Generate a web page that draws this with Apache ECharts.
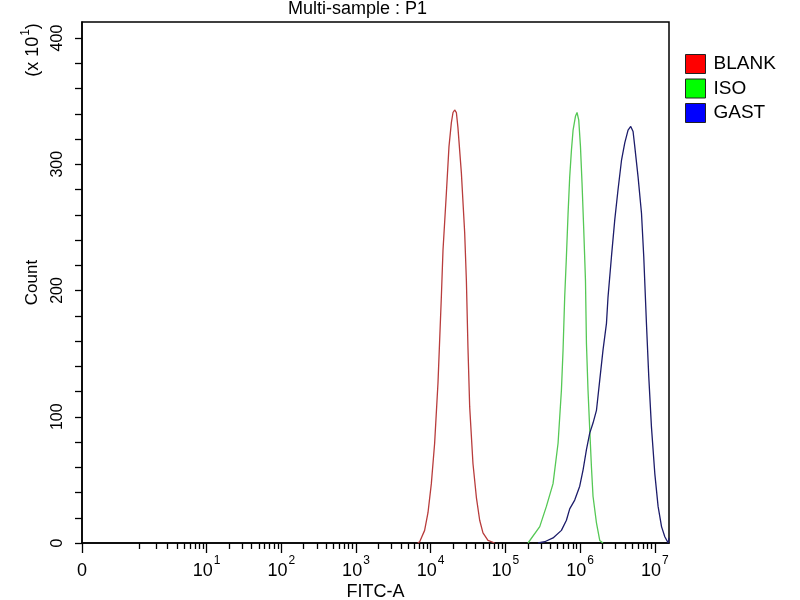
<!DOCTYPE html>
<html>
<head>
<meta charset="utf-8">
<script src="https://cdn.jsdelivr.net/npm/echarts@6/dist/echarts.min.js"></script>
<style>html,body{margin:0;padding:0;background:#fff;}#c{width:800px;height:600px;}</style>
</head>
<body>
<div id="c"></div>
<script>
// x positions are in decade units of the FITC-A axis (10^n -> n); the "0" of the axis sits at -0.667
const seriesNames = ['BLANK', 'ISO', 'GAST'];
const blankPos   = [3.826, 3.853, 3.919, 3.964, 4.009, 4.053, 4.098, 4.143, 4.165, 4.210, 4.245, 4.277, 4.299, 4.321, 4.344, 4.365, 4.411, 4.455, 4.478, 4.499, 4.522, 4.566, 4.612, 4.656, 4.700, 4.767, 4.857];
const blankCount = [0, 1, 10, 24, 47, 79, 127, 195, 232, 277, 314, 333, 341, 343, 341, 329, 293, 246, 208, 155, 108, 63, 36, 18, 8, 2, 0];
const isoPos     = [5.303, 5.460, 5.549, 5.638, 5.705, 5.750, 5.772, 5.794, 5.817, 5.839, 5.861, 5.884, 5.906, 5.938, 5.959, 5.982, 6.005, 6.026, 6.049, 6.072, 6.085, 6.106, 6.129, 6.152, 6.173, 6.219, 6.263, 6.307];
const isoCount   = [0, 13, 29, 47, 79, 121, 153, 195, 227, 261, 290, 311, 327, 338, 341, 335, 314, 285, 248, 208, 158, 121, 90, 60, 37, 16, 2, 0];
const gastPos    = [5.437, 5.527, 5.638, 5.750, 5.817, 5.861, 5.928, 5.995, 6.040, 6.085, 6.129, 6.173, 6.219, 6.263, 6.307, 6.353, 6.374, 6.420, 6.464, 6.508, 6.554, 6.598, 6.642, 6.678, 6.709, 6.732, 6.776, 6.822, 6.852, 6.888, 6.919, 6.955, 7.000, 7.044, 7.090, 7.134, 7.179, 7.19];
const gastCount  = [0, 1, 4, 10, 18, 27, 34, 45, 58, 74, 87, 95, 105, 129, 153, 174, 195, 227, 256, 280, 303, 317, 327, 330, 326, 314, 290, 261, 227, 174, 132, 92, 55, 29, 13, 5, 0, 4];

const xMajorTicks  = [-0.667, 1, 2, 3, 4, 5, 6, 7];
const xTickLabels  = ['0', '10|1', '10|2', '10|3', '10|4', '10|5', '10|6', '10|7'];
const xMinorTicksLow = [0.103, 0.326, 0.478, 0.608, 0.705, 0.786, 0.853, 0.906, 0.960];
const decadeSteps  = [2, 3, 4, 5, 6, 7, 8, 9];
const yTicks       = [0, 20, 40, 60, 80, 100, 120, 140, 160, 180, 200, 220, 240, 260, 280, 300, 320, 340, 360, 380, 400];
const yLabels      = [0, 100, 200, 300, 400];

const colors = ['#b83c3c', '#55c855', '#1c1c6a'];
const legendColors = ['#ff0000', '#00ff00', '#0000ff'];

const xMinorTicks = xMinorTicksLow.slice();
for (let d = 1; d < 7; d++) decadeSteps.forEach(k => xMinorTicks.push(d + Math.log10(k)));

function zip(a, b) { return a.map((v, i) => [v, b[i]]); }
const FONT = "'Liberation Sans', Arial, sans-serif";

const chart = echarts.init(document.getElementById('c'), null, {renderer: 'canvas'});
const labelMap = {};
xMajorTicks.forEach((v, i) => labelMap[v.toFixed(3)] = xTickLabels[i]);

chart.setOption({
  animation: false,
  backgroundColor: '#fff',
  grid: {left: 82, right: 131, top: 22, bottom: 57, outerBoundsMode: 'none', containLabel: false,
    show: true, borderColor: '#000', borderWidth: 1.5, backgroundColor: 'transparent'},
  legend: {
    orient: 'vertical', left: 685, top: 54, padding: 0, itemWidth: 20, itemHeight: 19, itemGap: 4.5, icon: 'rect',
    selectedMode: false,
    textStyle: {fontSize: 19, color: '#000', fontFamily: FONT, padding: [0, 0, 0, 3]},
    data: seriesNames.map((n, i) => ({name: n, itemStyle: {color: legendColors[i], borderColor: '#222', borderWidth: 1}}))
  },
  xAxis: [{
    type: 'value', min: -0.667, max: 7.19, position: 'bottom',
    name: 'FITC-A', nameLocation: 'middle', nameGap: 40, nameMoveOverlap: false,
    nameTextStyle: {fontSize: 18, color: '#000', fontFamily: FONT},
    axisLine: {show: true, onZero: false, lineStyle: {color: '#000', width: 1.5}},
    axisTick: {show: true, inside: false, customValues: xMajorTicks, length: 10, lineStyle: {color: '#000', width: 1.3}},
    axisLabel: {
      customValues: xMajorTicks, margin: 18, color: '#000', fontFamily: FONT,
      formatter: function (v) {
        const s = labelMap[Number(v).toFixed(3)] || '';
        const p = s.split('|');
        return p.length > 1 ? '{b|' + p[0] + '}{s|' + p[1] + '}' : '{b|' + p[0] + '}';
      },
      rich: {
        b: {fontSize: 18, lineHeight: 20, verticalAlign: 'middle', fontFamily: FONT, color: '#000'},
        s: {fontSize: 12, lineHeight: 12, padding: [0, 0, 20, 1], verticalAlign: 'middle', fontFamily: FONT, color: '#000'}
      }
    },
    splitLine: {show: false}
  }, {
    type: 'value', min: -0.667, max: 7.19, position: 'bottom', offset: 0,
    axisLine: {show: false, onZero: false},
    axisTick: {show: true, inside: false, customValues: xMinorTicks, length: 6, lineStyle: {color: '#000', width: 1.3}},
    axisLabel: {show: false},
    splitLine: {show: false}
  }],
  yAxis: {
    type: 'value', min: 0, max: 412.7, position: 'left',
    name: 'Count', nameLocation: 'middle', nameGap: 41, nameRotate: 90, nameMoveOverlap: false,
    nameTextStyle: {fontSize: 17, color: '#000', fontFamily: FONT},
    axisLine: {show: true, onZero: false, lineStyle: {color: '#000', width: 1.5}},
    axisTick: {show: true, inside: false, customValues: yTicks, length: 7, lineStyle: {color: '#000', width: 1.3}},
    axisLabel: {customValues: yLabels, rotate: 90, margin: 16, fontSize: 16, color: '#000', fontFamily: FONT},
    splitLine: {show: false}
  },
  graphic: [
    {type: 'text', left: 288, top: 0, style: {text: 'Multi-sample : P1', fontSize: 18, fill: '#000', fontFamily: FONT}},
    {type: 'text', x: 33, y: 50, rotation: Math.PI / 2,
      style: {text: '{a|(x 10}{s|1}{a|)}', align: 'center', verticalAlign: 'middle',
        rich: {a: {fontSize: 18, lineHeight: 20, verticalAlign: 'middle', fontFamily: FONT, fill: '#000'},
               s: {fontSize: 12, lineHeight: 12, padding: [0, 0, 14, 1], verticalAlign: 'middle', fontFamily: FONT, fill: '#000'}}}}
  ],
  series: [
    {name: seriesNames[0], type: 'line', data: zip(blankPos, blankCount), showSymbol: false, symbol: 'none', lineStyle: {color: colors[0], width: 1.3}, itemStyle: {color: colors[0]}},
    {name: seriesNames[1], type: 'line', data: zip(isoPos, isoCount), showSymbol: false, symbol: 'none', lineStyle: {color: colors[1], width: 1.3}, itemStyle: {color: colors[1]}},
    {name: seriesNames[2], type: 'line', data: zip(gastPos, gastCount), showSymbol: false, symbol: 'none', lineStyle: {color: colors[2], width: 1.3}, itemStyle: {color: colors[2]}}
  ]
});
</script>
</body>
</html>
